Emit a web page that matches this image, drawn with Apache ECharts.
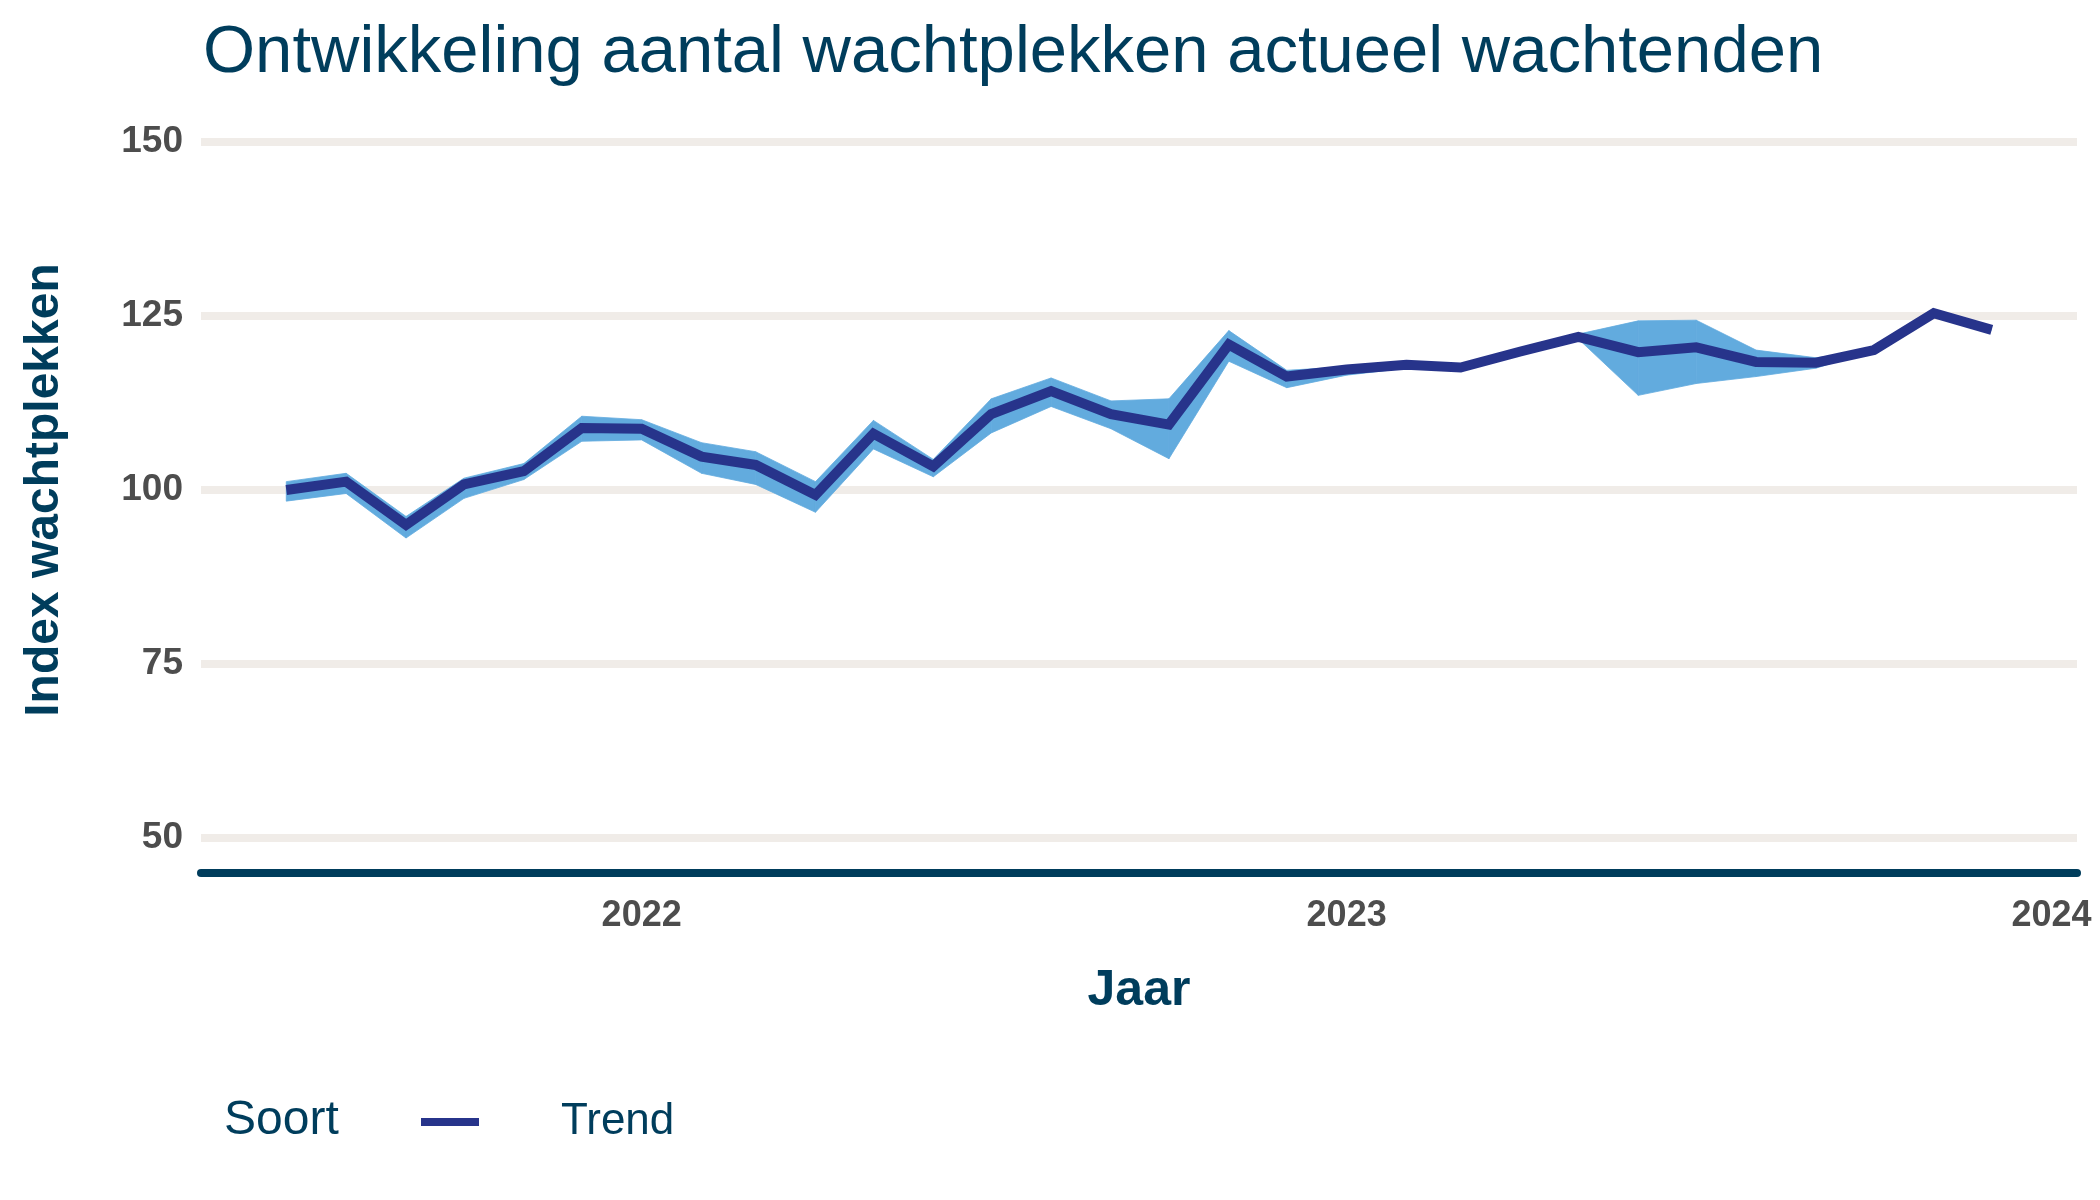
<!DOCTYPE html>
<html><head><meta charset="utf-8">
<script src="https://cdn.jsdelivr.net/npm/echarts@6/dist/echarts.min.js"></script>
<style>html,body{margin:0;padding:0;background:#fff}#c{width:2100px;height:1200px}</style>
</head><body><div id="c"></div>
<script>
// ---- data ----
const months = ['2021-07-01','2021-08-01','2021-09-01','2021-10-01','2021-11-01','2021-12-01',
  '2022-01-01','2022-02-01','2022-03-01','2022-04-01','2022-05-01','2022-06-01',
  '2022-07-01','2022-08-01','2022-09-01','2022-10-01','2022-11-01','2022-12-01',
  '2023-01-01','2023-02-01','2023-03-01','2023-04-01','2023-05-01','2023-06-01',
  '2023-07-01','2023-08-01','2023-09-01','2023-10-01','2023-11-01','2023-12-01'];
const trend = [100.0,101.2,95.0,100.8,102.7,108.9,108.8,104.8,103.6,99.3,108.1,103.4,
  110.9,114.2,110.9,109.4,120.9,116.3,117.3,118.0,117.6,119.9,122.0,119.8,120.5,118.4,118.3,120.1,125.4,123.0];
const lower = [98.4,99.5,93.1,98.8,101.5,107.0,107.2,102.4,100.8,96.8,105.9,101.9,
  108.2,112.0,108.8,104.5,118.5,114.7,116.5,117.5,117.4,119.8,121.7,113.6,115.3,116.3,117.5,120.1,125.4,123.0];
const upper = [101.2,102.4,96.2,101.7,103.8,110.6,110.1,106.8,105.5,101.2,110.0,104.4,
  113.1,116.1,112.8,113.1,122.9,117.2,117.7,118.3,117.8,120.0,122.4,124.3,124.4,120.1,119.0,120.1,125.4,123.0];
const yTicks = [50, 75, 100, 125, 150];
const xTickDates = ['2022-01-01','2023-01-01','2024-01-01'];
const titleText = 'Ontwikkeling aantal wachtplekken actueel wachtenden';
const yName = 'Index wachtplekken';
const xName = 'Jaar';
const legendTitle = 'Soort';
const seriesName = 'Trend';

// ---- build ----
const FONT = "'Liberation Sans', Arial, Helvetica, sans-serif";
const NAVY = '#003d5c';
const BAND = '#62abde';
const ts = d => Date.parse(d + 'T00:00:00Z');
const t = months.map(ts);
const span = t[t.length - 1] - t[0];
const xMin = t[0] - 0.05 * span;
const xMax = t[t.length - 1] + 0.05 * span;
const bandData = t.map((x, i) => [x, lower[i], upper[i]]);

const chart = echarts.init(document.getElementById('c'));
chart.setOption({
  animation: false,
  backgroundColor: '#ffffff',
  title: {
    text: titleText, left: 198, top: 15,
    textStyle: { fontFamily: FONT, fontSize: 67, fontWeight: 'normal', color: NAVY }
  },
  graphic: [{
    type: 'text', left: 224, top: 1097,
    style: { text: legendTitle, font: "48px 'Liberation Sans', Arial, sans-serif", fill: NAVY }
  }],
  legend: {
    data: [{ name: seriesName, icon: 'rect' }],
    left: 416, top: 1095,
    itemWidth: 58, itemHeight: 8,
    textStyle: { fontFamily: FONT, fontSize: 44, color: NAVY, padding: [0, 0, 0, 77] }
  },
  grid: { left: 201, right: 23, top: 142, bottom: 362 },
  xAxis: {
    type: 'value', min: xMin, max: xMax, offset: 35,
    axisLine: { show: true, lineStyle: { color: NAVY, width: 8 } },
    axisTick: { show: false },
    splitLine: { show: false },
    axisLabel: {
      customValues: xTickDates.map(ts),
      formatter: v => String(new Date(v).getUTCFullYear()),
      fontFamily: FONT, fontSize: 36, fontWeight: 'bold', color: '#4d4d4d', margin: 25
    },
    name: xName, nameLocation: 'middle', nameGap: 93,
    nameTextStyle: { fontFamily: FONT, fontSize: 50, fontWeight: 'bold', color: NAVY }
  },
  yAxis: {
    type: 'value', min: yTicks[0], max: yTicks[yTicks.length - 1], interval: 25,
    axisLine: { show: false }, axisTick: { show: false },
    splitLine: { show: true, lineStyle: { color: '#f0ece8', width: 8 } },
    axisLabel: { fontFamily: FONT, fontSize: 37, fontWeight: 'bold', color: '#4d4d4d', margin: 18 },
    name: yName, nameLocation: 'middle', nameGap: 132, nameRotate: 90,
    nameTextStyle: { fontFamily: FONT, fontSize: 48, fontWeight: 'bold', color: NAVY }
  },
  series: [
    {
      name: 'band', type: 'custom', silent: true, z: 2,
      data: bandData,
      encode: { x: 0, y: [1, 2] },
      renderItem: function (params, api) {
        const i = params.dataIndex;
        if (i >= bandData.length - 1) return null;
        const a = bandData[i], b = bandData[i + 1];
        const pts = [
          api.coord([a[0], a[2]]), api.coord([b[0], b[2]]),
          api.coord([b[0], b[1]]), api.coord([a[0], a[1]])
        ];
        return {
          type: 'polygon',
          shape: { points: pts },
          style: { fill: BAND, stroke: BAND, lineWidth: 0.8 }
        };
      }
    },
    {
      name: seriesName, type: 'line', z: 5,
      color: '#27348b',
      data: t.map((x, i) => [x, trend[i]]),
      symbol: 'none',
      lineStyle: { width: 10, color: '#27348b', cap: 'butt', join: 'miter' }
    }
  ]
});
</script>
</body></html>
